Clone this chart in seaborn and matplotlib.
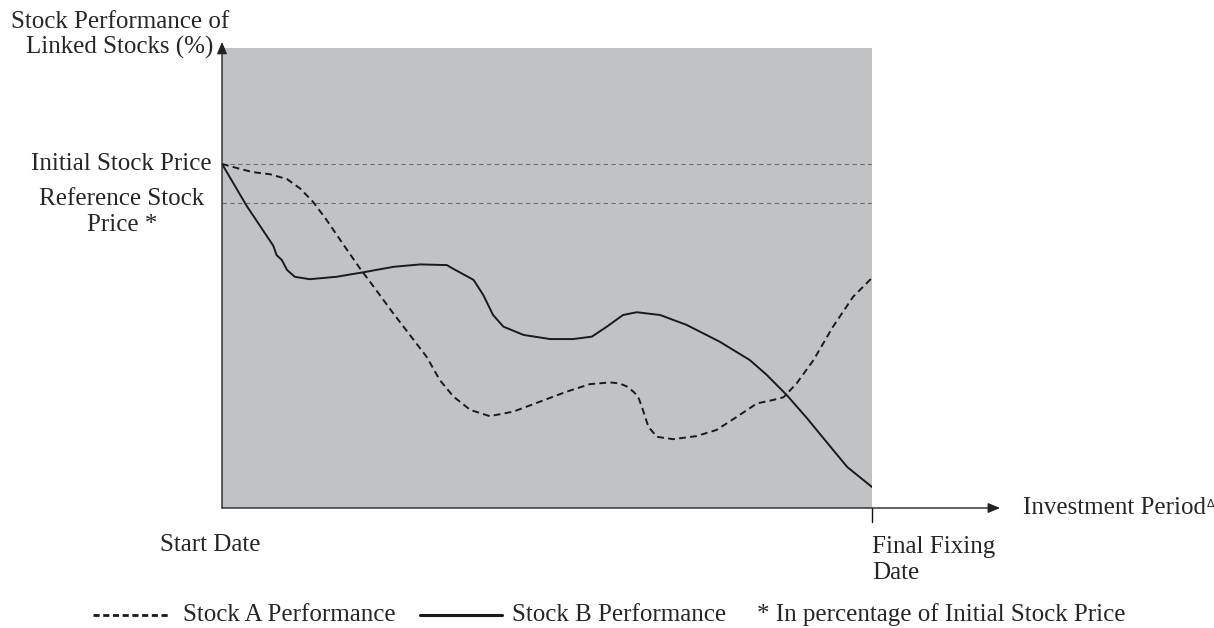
import matplotlib
matplotlib.use("Agg")
import matplotlib.pyplot as plt
from matplotlib.lines import Line2D
import seaborn as sns

# Stock A (dashed) and Stock B (solid), x = % of investment period, y = % of initial price
stock_a_x = [0, 2.3, 4.8, 7.4, 10.0, 12.0, 14.0, 16.1, 18.7, 21.2, 23.5, 26.3, 31.5, 33.5,
             35.6, 38.2, 41.2, 44.8, 48.9, 53.0, 56.6, 59.7, 61.2, 62.3, 63.3, 64.0, 64.6,
             65.6, 66.9, 69.4, 73.0, 76.1, 79.2, 82.3, 84.8, 86.4, 88.4, 91.0, 94.0, 97.1, 100]
stock_a_y = [100, 98.8, 97.6, 97.0, 95.6, 92.9, 89.0, 83.7, 76.5, 69.7, 63.9, 56.7, 43.9, 37.2,
             32.4, 28.5, 26.7, 28.0, 30.9, 33.8, 36.0, 36.5, 36.2, 35.3, 33.8, 32.4, 29.4,
             23.6, 20.7, 20.0, 20.9, 22.7, 26.5, 30.4, 31.4, 32.2, 36.2, 43.0, 52.7, 61.4, 66.9]

stock_b_x = [0, 3.8, 7.9, 8.4, 9.2, 10.0, 11.2, 13.5, 17.6, 21.7, 26.4, 30.5, 34.6, 35.6,
             38.7, 40.2, 41.7, 43.3, 46.4, 50.5, 54.0, 56.9, 59.2, 61.7, 63.8, 67.4, 71.5,
             76.6, 81.2, 83.8, 86.9, 90.0, 94.0, 96.2, 100]
stock_b_y = [100, 87.8, 76.2, 73.5, 72.1, 69.2, 67.2, 66.5, 67.2, 68.5, 70.1, 70.8, 70.6, 69.5,
             66.3, 61.9, 56.1, 52.7, 50.3, 49.1, 49.1, 49.8, 52.7, 56.1, 56.9, 56.1, 53.2,
             48.3, 43.0, 38.7, 32.8, 26.1, 16.9, 11.9, 6.1]

initial_price = 100
reference_price = 88.7

sns.set_theme(style="white")
plt.rcParams["font.family"] = ["Liberation Serif", "DejaVu Serif"]

W, H = 1214, 628
fig = plt.figure(figsize=(W / 100, H / 100), dpi=100)
ax = fig.add_axes([222 / W, 1 - 508 / H, 650 / W, 460 / H])
ax.set_facecolor("#c1c2c4")
ax.set_xlim(0, 100)
ax.set_ylim(0, 133.7)

# reference levels
for lvl in [initial_price, reference_price]:
    ax.axhline(lvl, color="#6e6e6e", lw=0.8, dashes=(4, 3))

sns.lineplot(x=stock_a_x, y=stock_a_y, ax=ax, color="#1a1a1a", lw=1.4, sort=False)
ax.lines[-1].set_dashes((3.5, 2.2))
ax.lines[-1].set_dash_joinstyle("round")
sns.lineplot(x=stock_b_x, y=stock_b_y, ax=ax, color="#1a1a1a", lw=1.4, sort=False)
ax.lines[-1].set_solid_joinstyle("round")

ax.set_xticks([])
ax.set_yticks([])
ax.set_xlabel("")
ax.set_ylabel("")
for s in ["top", "right", "bottom", "left"]:
    ax.spines[s].set_visible(False)

# axis arrows
arrow = dict(arrowstyle="-|>,head_length=0.6,head_width=0.25", color="#222222", lw=1.0,
             shrinkA=0, shrinkB=0)
ax.annotate("", xy=(0, 135.5), xytext=(0, 0), arrowprops=arrow, annotation_clip=False)
ax.annotate("", xy=(119.7, 0), xytext=(0, 0), arrowprops=arrow, annotation_clip=False)
ax.plot([100, 100], [0, -4.1], color="#111111", lw=1.0, clip_on=False)

fs = 18
ax.annotate("Stock Performance of\nLinked Stocks (%)", xy=(0, 133.7), xytext=(-102, 13),
            textcoords="offset pixels", ha="center", va="center", fontsize=fs,
            multialignment="center", annotation_clip=False)
ax.annotate("Initial Stock Price", xy=(0, initial_price), xytext=(-10, 0),
            textcoords="offset pixels", ha="right", va="center", fontsize=fs,
            annotation_clip=False)
ax.annotate("Reference Stock\nPrice *", xy=(0, reference_price), xytext=(-100, -9),
            textcoords="offset pixels", ha="center", va="center", fontsize=fs,
            multialignment="center", annotation_clip=False)
ax.annotate("Start Date", xy=(0, 0), xytext=(-62, -37), textcoords="offset pixels",
            ha="left", va="center", fontsize=fs, annotation_clip=False)
ax.annotate("Final Fixing\nDate", xy=(100, 0), xytext=(0, -52), textcoords="offset pixels",
            ha="left", va="center", fontsize=fs, multialignment="left",
            annotation_clip=False)
inv = ax.annotate("Investment Period", xy=(119.7, 0), xytext=(23, 0),
                  textcoords="offset pixels", ha="left", va="center", fontsize=fs,
                  annotation_clip=False)
fig.canvas.draw()
bb = inv.get_window_extent()
fig.text((bb.x1 + 0.5) / W, (bb.y1 - 2) / H, "Δ", ha="left", va="top", fontsize=8,
         family=["DejaVu Sans"])

# legend row at the bottom
ly = 1 - 615 / H
fig.add_artist(Line2D([93 / W, 170 / W], [ly, ly], color="#1a1a1a", lw=2.0,
                      dashes=(2.2, 1.3), transform=fig.transFigure))
fig.text(183 / W, ly, "Stock A Performance", ha="left", va="center", fontsize=fs)
fig.add_artist(Line2D([420 / W, 502 / W], [ly, ly], color="#1a1a1a", lw=2.2,
                      transform=fig.transFigure))
fig.text(512 / W, ly, "Stock B Performance", ha="left", va="center", fontsize=fs)
fig.text(757 / W, ly, "* In percentage of Initial Stock Price", ha="left", va="center",
         fontsize=fs)

fig.savefig("out.png", dpi=100, facecolor="white")
